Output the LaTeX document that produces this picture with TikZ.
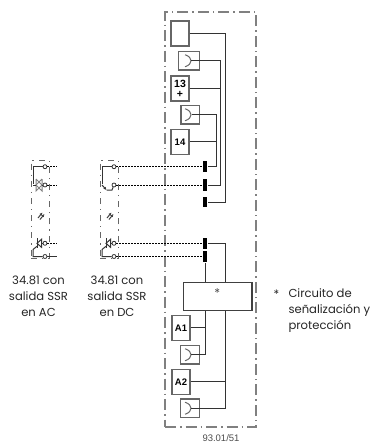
\documentclass[tikz,border=0pt]{standalone}
\usepackage{fontspec}
\setmainfont{Poppins}
\newfontfamily\termfont{Liberation Sans}
\usetikzlibrary{arrows.meta, positioning}

\begin{document}
\begin{tikzpicture}[
x = 1pt, y = -1pt,
node distance = 25pt, on grid,
every path/.style = {line width=1pt, color=black!75},
frame/.style = {draw=black!50, line width=1.1pt, dash pattern=on 11pt off 4pt on 1.5pt off 4pt},
modframe/.style = {draw=black!60, line width=1pt, dash pattern=on 6pt off 5pt on 1.2pt off 5pt},
tbox/.style = {draw=black!60, line width=1.1pt, minimum width=18pt, minimum height=25pt, inner sep=0pt,
               align=center, text=black, font=\termfont\bfseries\fontsize{9.5}{10}\selectfont},
conbox/.style = {draw=black!60, line width=1.1pt, minimum width=19pt, minimum height=18.5pt, inner sep=0pt},
termbar/.style = {fill=black, draw=none, minimum width=4.6pt, minimum height=11.5pt, inner sep=0pt},
pin/.style = {draw=black!80, circle, fill=white, line width=0.8pt, minimum size=4pt, inner sep=0pt},
note/.style = {inner sep=0pt, text=black!85, font=\fontsize{11.6}{15.9}\selectfont},
wire/.style = {draw=black!80},
dotwire/.style = {draw=black, line width=0.7pt, dash pattern=on 2pt off 1pt},
                    ]
\useasboundingbox (0,0) rectangle (371,442);
% outer frame
\node[frame, minimum width=91pt, minimum height=415pt, inner sep=0pt] (relay) at (210.5,219.5) {};
%
\node[tbox] (top) at (180,33.5) {};
\node[conbox, minimum width=21pt] (cona) [below right=27.25pt and 9pt of top] {};
\node[tbox, font=\termfont\bfseries\fontsize{10.5}{10}\selectfont] (t13) [below=55pt of top] {13\\+};
\node[conbox, minimum width=18.5pt] (conb) [below right=26.25pt and 10.25pt of t13] {};
\node[tbox] (t14) [below=53.25pt of t13] {14};
%
\node[termbar] (bara) at (205,166.7) {};
\node[termbar] (barb) [below=18.3pt of bara] {};
\node[termbar, minimum height=10pt] (barc) [below=17pt of barb] {};
\node[termbar] (bard) at (205,243.3) {};
\node[termbar] (bare) [below=13.2pt of bard] {};
%
\node[draw=black!75, line width=1.1pt, minimum width=68.5pt, minimum height=28pt, inner sep=0pt] (block) at (217.75,296.5) {};
\node[inner sep=0pt, font=\fontsize{12}{12}\selectfont, text=black!70] (blockstar) at (217.3,293) {*};
\node[tbox] (ta1) at (181,327.75) {A1};
\node[conbox] (conc) [below right=27pt and 9pt of ta1] {};
\node[tbox] (ta2) [below=54pt of ta1] {A2};
\node[conbox] (cond) [below right=26.5pt and 9pt of ta2] {};
%
\coordinate (raila) at (216,0);
\coordinate (railb) at (220.5,0);
\coordinate (railc) at (225,0);
\coordinate (raild) at (205,0);
\coordinate (raile) at (225.5,0);
%
\foreach \k in {cona,conb,conc,cond}
    \draw[draw=black!60] ([shift={(-15,-6)}]\k.east) .. controls ([shift={(-7,-3.5)}]\k.east) and ([shift={(-7,3.5)}]\k.east) .. ([shift={(-15,6)}]\k.east);
%
\draw[wire] (top.east) -- (top -| railc) -- (barc -| railc) -- (barc.east);
\draw[wire] ([xshift=-9pt] cona.east) -- (cona -| railb) -- (barb -| railb) -- (barb.east);
\draw[wire] (t13.east) -- (t13 -| railb);
\draw[wire] ([xshift=-8pt] conb.east) -- (conb -| raila) -- (bara -| raila) -- (bara.east);
\draw[wire] (t14.east) -- (t14 -| raila);
%
\draw[wire] (bard.east) -- (bard -| raile) -- (block.north -| raile);
\draw[wire] (bare.south) -- (block.north -| bare);
\draw[wire] (block.south -| raild) -- (conc -| raild) -- ([xshift=-9pt] conc.east);
\draw[wire] (ta1.east) -- (ta1 -| raild);
\draw[wire] (block.south -| raile) -- (cond -| raile) -- ([xshift=-9pt] cond.east);
\draw[wire] (ta2.east) -- (ta2 -| raile);
%
% the two plug-in modules
\foreach \m/\dx in {ac/0, dc/69} {
    \node[modframe, minimum width=18pt, minimum height=98pt, inner sep=0pt] (\m frame) at (40+\dx,209) {};
    \node[pin] (\m pa) at (45+\dx,166.7) {};
    \node[pin] (\m pb) at (45+\dx,185) {};
    \node[pin] (\m pc) at (45+\dx,243.3) {};
    \node[pin] (\m pd) at (45+\dx,256.5) {};
    \coordinate (\m opt) at (41+\dx,215);
    \coordinate (\m led) at (37+\dx,243.3);
    \coordinate (\m lft) at (33+\dx,0);
    % opto arrows
    \draw[-{Latex[length=3pt,width=3pt]}] ([shift={(-3,3)}] \m opt) -- ([shift={(1.5,-2.5)}] \m opt);
    \draw[-{Latex[length=3pt,width=3pt]}] ([shift={(-1,4.5)}] \m opt) -- ([shift={(3.5,-1)}] \m opt);
    % input side
    \draw[wire] (\m pc) -- (\m led);
    \draw[wire, fill=white] (\m led) -- ++(4.5,-4) -- ++(0,8) -- cycle;
    \draw[wire] ([yshift=5pt] \m led) -- ([yshift=-5pt] \m led);
    \draw[wire] ([yshift=-3pt] \m led) -- ([yshift=7pt] \m lft |- \m pd) -- (\m lft |- \m pd) -- (\m pd);
    % output side
    \draw[wire] (\m pa) -- (\m pa -| \m lft) -- ([yshift=1pt] \m pb -| \m lft);
}
% output switch of the DC module
\coordinate (dcsw) at (112,190);
\coordinate (dcswl) at (106.5,190);
\draw[wire] (dcpb) -- (dcsw) -- (dcswl);
\draw[-{Latex[length=3pt,width=3pt]}, draw=black!80] (dclft |- dcpb) -- (dcswl);
% antiparallel output of the AC module
\coordinate (actl) at (36,185);
\coordinate (actr) at (42,185);
\draw[draw=black!50] ([yshift=6pt] actl) -- ([yshift=-6pt] actl) -- (actr) -- ([yshift=6pt] actl);
\draw[draw=black!50] ([yshift=6pt] actr) -- ([yshift=-6pt] actr) -- (actl) -- ([yshift=6pt] actr);
\draw[wire] (aclft |- acpb) -- (actl);
\draw[wire] (actr) -- (acpb);
% stubs of the AC module
\foreach \p in {a,b,c} {
    \coordinate[right=12pt of acp\p] (acs\p);
    \draw[dotwire] (acp\p) -- (acs\p);
}
\coordinate[right=12pt of acpd] (acsd);
\draw[wire] (acpd) -- (acsd);
% links from the DC module to the relay
\foreach \p/\b in {a/a, b/b, c/d, d/e}
    \draw[dotwire] (dcp\p) -- (bar\b.west);
%
\node[note, align=center] (acnote) at (38.5,296) {34.81 con\\salida SSR\\en AC};
\node[note, align=center] (dcnote) at (117,296) {34.81 con\\salida SSR\\en DC};
\node[note] (starnote) at (276.5,294) {*};
\node[note, align=left, anchor=west] (circnote) at (288,310.5) {Circuito de\\señalización y\\protección};
\node[inner sep=0pt, anchor=base, text=black!70, font=\termfont\fontsize{9.5}{9.5}\selectfont] (code) at (221,441.5) {93.01/51};
\end{tikzpicture}
\end{document}
